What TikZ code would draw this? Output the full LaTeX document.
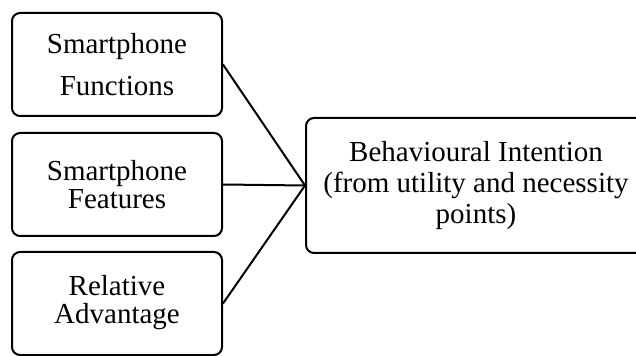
\documentclass[tikz,border=0pt]{standalone}
\usepackage{fontspec}
\setmainfont{Liberation Serif}
\begin{document}
\begin{tikzpicture}[x=0.75pt,y=-0.75pt,
  box/.style={draw=black,line width=1.5pt,rounded corners=6pt,inner sep=0pt,
    align=center,font=\fontsize{21.75}{21}\selectfont},
  factor/.style={box,minimum width=157.5pt,minimum height=77.25pt},
  outcome/.style={box,minimum width=255pt,minimum height=101.25pt,
    font=\fontsize{21.75}{23.25}\selectfont},
  link/.style={line width=1.5pt}]
\useasboundingbox (0,0) rectangle (636,356);
% three determinants on the left
\node[factor] (func) at (117,64.5) {Smartphone\\[10.5pt]Functions};
\node[factor] (feat) at (117,184.5) {Smartphone\\Features};
\node[factor] (adv)  at (117,303.5) {Relative\\Advantage\rule[-6pt]{0pt}{0pt}};
% outcome box, running past the right edge
\node[outcome] (bi) at (476,185.5) {Behavioural Intention\\(from utility and necessity\\points)};
% connectors meeting at the outcome's west side
\draw[link] (func.east) -- (bi.west);
\draw[link] (feat.east) -- (bi.west);
\draw[link] (adv.east) -- (bi.west);
\end{tikzpicture}
\end{document}
